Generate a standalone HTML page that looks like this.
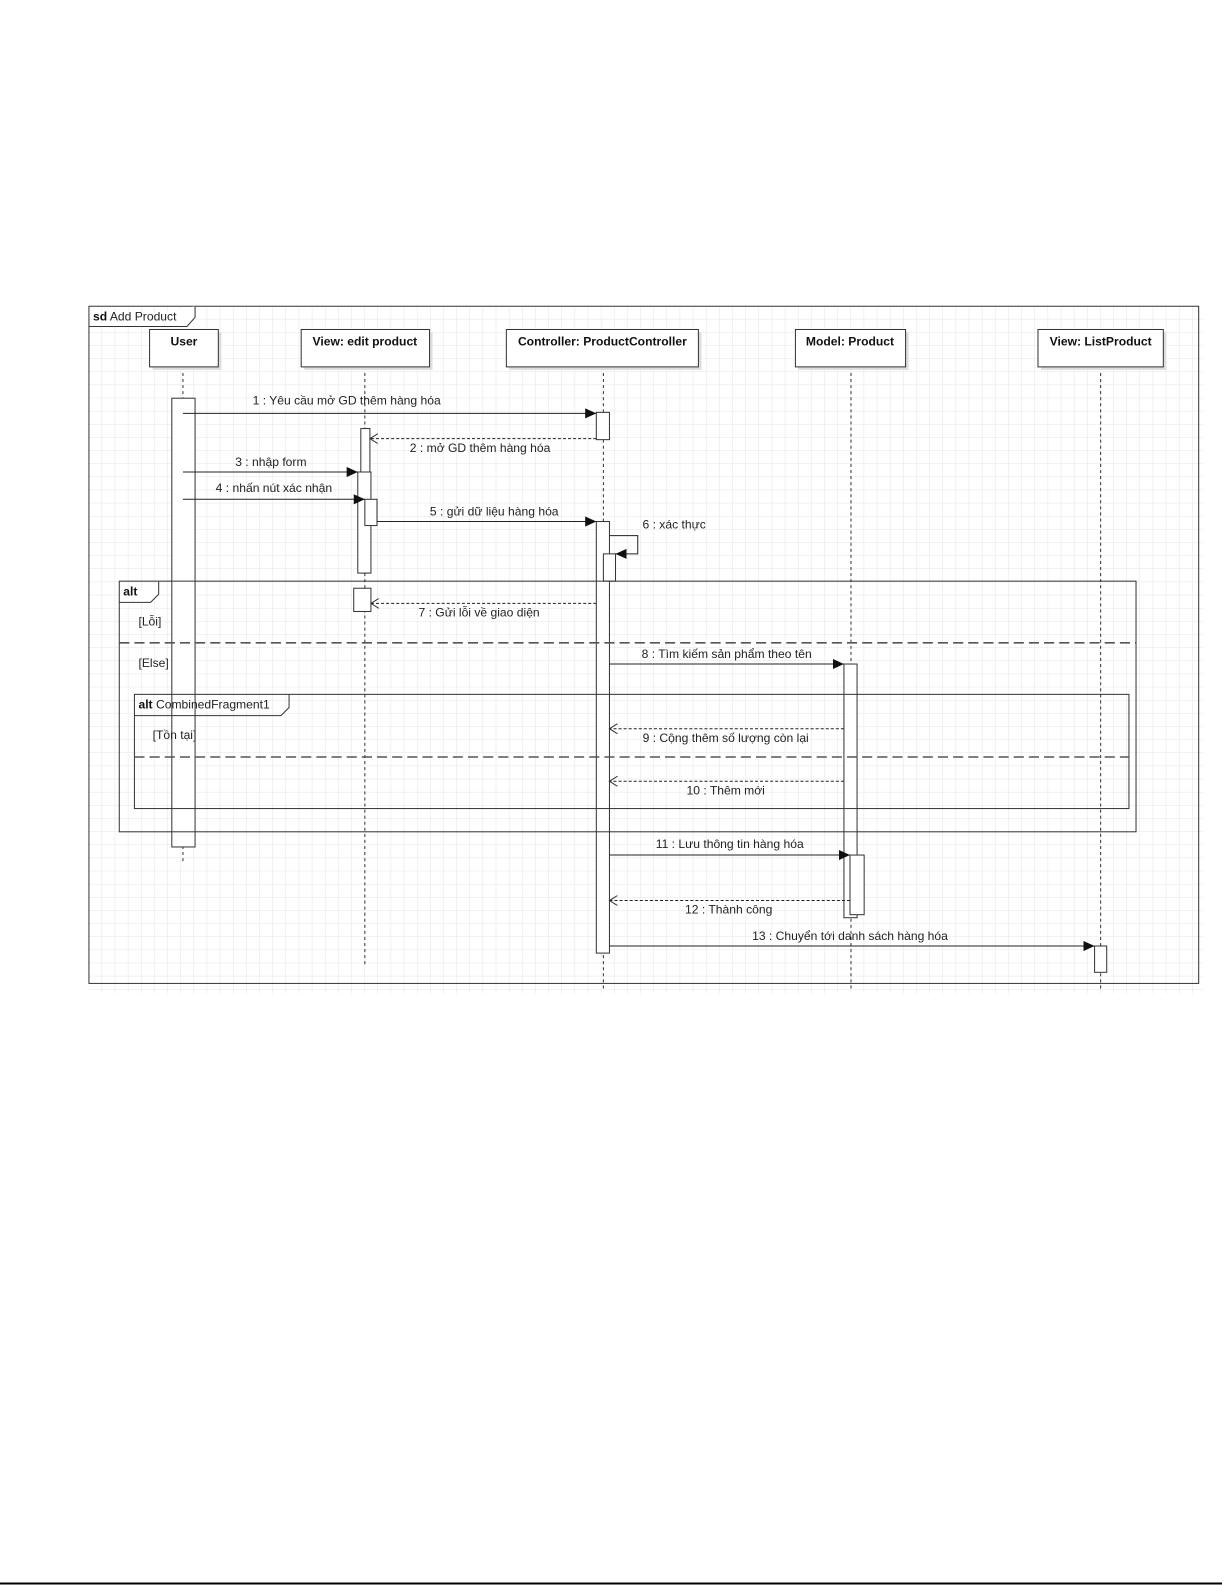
<!DOCTYPE html>
<html><head><meta charset="utf-8"><style>
html,body{margin:0;padding:0;background:#fff;width:1225px;height:1585px;overflow:hidden}
svg{display:block}
text{font-family:"Liberation Sans",sans-serif;font-size:12px;fill:#222}
.b{font-weight:bold;fill:#111}
</style></head><body>
<svg width="1225" height="1585" xmlns="http://www.w3.org/2000/svg">
<defs>
<pattern id="g" width="13" height="13" patternUnits="userSpaceOnUse" x="88" y="303">
<path d="M13 0V13H0" fill="none" stroke="#e4e4e4" stroke-width="1"/>
</pattern>
<marker id="fa" markerWidth="12" markerHeight="10" refX="11" refY="5" orient="auto" markerUnits="userSpaceOnUse"><path d="M0 0L11 5L0 10Z" fill="#111"/></marker>
<marker id="oa" markerWidth="12" markerHeight="10" refX="9" refY="5" orient="auto" markerUnits="userSpaceOnUse"><path d="M1 0L9 5L1 10" fill="none" stroke="#333"/></marker>
</defs>
<g transform="scale(1.0107)">
<rect x="88" y="303" width="1102" height="680" fill="url(#g)"/>
<rect x="88" y="303" width="1098" height="670" fill="none" stroke="#333"/>
<path d="M88 323H185L193 314V303" fill="#fff" stroke="#333"/>
<text x="92" y="317"><tspan class="b">sd</tspan> Add Product</text>

<g stroke="#333" stroke-dasharray="3,3">
<line x1="181" y1="363" x2="181" y2="852"/>
<line x1="361" y1="363" x2="361" y2="955"/>
<line x1="597" y1="363" x2="597" y2="980"/>
<line x1="842" y1="363" x2="842" y2="980"/>
<line x1="1089" y1="363" x2="1089" y2="980"/>
</g>
<g fill="#ddd"><rect x="151" y="329" width="68" height="37"/><rect x="301" y="329" width="127" height="37"/><rect x="504" y="329" width="190" height="37"/><rect x="790" y="329" width="109" height="37"/><rect x="1030" y="329" width="124" height="37"/></g>
<g fill="#fff" stroke="#333"><rect x="148" y="326" width="68" height="37"/><rect x="298" y="326" width="127" height="37"/><rect x="501" y="326" width="190" height="37"/><rect x="787" y="326" width="109" height="37"/><rect x="1027" y="326" width="124" height="37"/></g>
<g text-anchor="middle"><text x="182" y="342" class="b">User</text><text x="361" y="342" class="b">View: edit product</text><text x="596" y="342" class="b">Controller: ProductController</text><text x="841" y="342" class="b">Model: Product</text><text x="1089" y="342" class="b">View: ListProduct</text></g>

<g fill="#fff" stroke="#333">
<rect x="170" y="394" width="23" height="444"/>
<rect x="357" y="424" width="9" height="143"/>
<rect x="354" y="467" width="13" height="100"/>
<rect x="361" y="494" width="12" height="26"/>
<rect x="350" y="582" width="17" height="23"/>
<rect x="590" y="408" width="13" height="27"/>
<rect x="590" y="516" width="13" height="427"/>
<rect x="597" y="548" width="12" height="27"/>
<rect x="835" y="657" width="13" height="251"/>
<rect x="841" y="846" width="14" height="59"/>
<rect x="1083" y="936" width="12" height="26"/>
</g>

<rect x="118" y="575" width="1006" height="248" fill="none" stroke="#333"/>
<path d="M118 596H149L157 588V575" fill="#fff" stroke="#333"/>
<text x="122" y="589" class="b">alt</text>
<line x1="118" y1="636" x2="1124" y2="636" stroke="#555" stroke-width="1.5" stroke-dasharray="10,5"/>
<text x="137" y="619">[Lỗi]</text>
<text x="137" y="660">[Else]</text>
<rect x="133" y="687" width="984" height="113" fill="none" stroke="#333"/>
<path d="M133 708H278L286 700V687" fill="none" stroke="#333"/>
<text x="137" y="701"><tspan class="b">alt</tspan> CombinedFragment1</text>
<line x1="133" y1="749" x2="1117" y2="749" stroke="#555" stroke-width="1.5" stroke-dasharray="10,5"/>
<text x="151" y="731">[Tồn tại]</text>

<g stroke="#222" fill="none">
<line x1="181" y1="409" x2="590" y2="409" marker-end="url(#fa)"/>
<line x1="590" y1="434" x2="366" y2="434" stroke-dasharray="3,2" marker-end="url(#oa)"/>
<line x1="181" y1="467" x2="354" y2="467" marker-end="url(#fa)"/>
<line x1="181" y1="494" x2="361" y2="494" marker-end="url(#fa)"/>
<line x1="373" y1="516" x2="590" y2="516" marker-end="url(#fa)"/>
<path d="M603 530H631V548H609" marker-end="url(#fa)"/>
<line x1="590" y1="597" x2="367" y2="597" stroke-dasharray="3,2" marker-end="url(#oa)"/>
<line x1="603" y1="657" x2="835" y2="657" marker-end="url(#fa)"/>
<line x1="835" y1="721" x2="603" y2="721" stroke-dasharray="3,2" marker-end="url(#oa)"/>
<line x1="835" y1="773" x2="603" y2="773" stroke-dasharray="3,2" marker-end="url(#oa)"/>
<line x1="603" y1="846" x2="841" y2="846" marker-end="url(#fa)"/>
<line x1="841" y1="891" x2="603" y2="891" stroke-dasharray="3,2" marker-end="url(#oa)"/>
<line x1="603" y1="936" x2="1083" y2="936" marker-end="url(#fa)"/>
</g>
<g text-anchor="middle">
<text x="343" y="400">1 : Yêu cầu mở GD thêm hàng hóa</text>
<text x="475" y="447">2 : mở GD thêm hàng hóa</text>
<text x="268" y="461">3 : nhập form</text>
<text x="271" y="487">4 : nhấn nút xác nhận</text>
<text x="489" y="510">5 : gửi dữ liệu hàng hóa</text>
<text x="667" y="523">6 : xác thực</text>
<text x="474" y="610">7 : Gửi lỗi về giao diện</text>
<text x="719" y="651">8 : Tìm kiếm sản phẩm theo tên</text>
<text x="718" y="734">9 : Cộng thêm số lượng còn lại</text>
<text x="718" y="786">10 : Thêm mới</text>
<text x="722" y="839">11 : Lưu thông tin hàng hóa</text>
<text x="721" y="904">12 : Thành công</text>
<text x="841" y="930">13 : Chuyển tới danh sách hàng hóa</text>
</g>
</g>
<line x1="0" y1="1583.5" x2="1222" y2="1583.5" stroke="#000" stroke-width="2"/>
</svg>
</body></html>
